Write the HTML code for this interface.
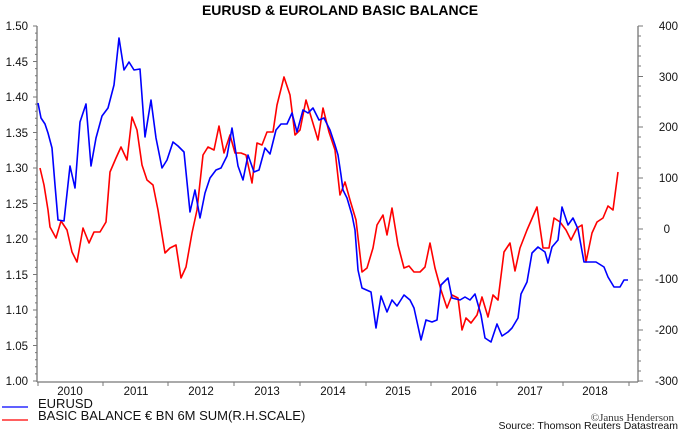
<!DOCTYPE html>
<html><head><meta charset="utf-8"><style>
html,body{margin:0;padding:0;background:#fff;}
svg{display:block;font-family:"Liberation Sans",Arial,sans-serif;}
</style></head><body>
<svg width="680" height="431" viewBox="0 0 680 431" xmlns="http://www.w3.org/2000/svg">
<text x="340" y="15" text-anchor="middle" font-weight="bold" font-size="14">EURUSD &amp; EUROLAND BASIC BALANCE</text>
<g stroke="#777" stroke-width="1.3" fill="none">
<line x1="37" y1="26" x2="37" y2="382"/>
<line x1="638" y1="26" x2="638" y2="382"/>
<line x1="37" y1="382" x2="638" y2="382"/>
</g>
<g font-size="11.5" fill="#111" text-anchor="end">
<text x="28" y="30">1.50</text><text x="28" y="66">1.45</text><text x="28" y="101">1.40</text><text x="28" y="137">1.35</text><text x="28" y="172">1.30</text><text x="28" y="208">1.25</text><text x="28" y="243">1.20</text><text x="28" y="279">1.15</text><text x="28" y="314">1.10</text><text x="28" y="350">1.05</text><text x="28" y="385">1.00</text>
</g>
<g font-size="11.5" fill="#111" text-anchor="end">
<text x="678" y="30">400</text><text x="678" y="81">300</text><text x="678" y="131">200</text><text x="678" y="182">100</text><text x="670" y="233">0</text><text x="678" y="283">-100</text><text x="678" y="334">-200</text><text x="678" y="385">-300</text>
</g>
<g font-size="11.5" fill="#111" text-anchor="middle">
<text x="70" y="395">2010</text><text x="136" y="395">2011</text><text x="201" y="395">2012</text><text x="267" y="395">2013</text><text x="333" y="395">2014</text><text x="398" y="395">2015</text><text x="464" y="395">2016</text><text x="530" y="395">2017</text><text x="595" y="395">2018</text>
</g>
<g stroke="#777" stroke-width="1">
<path d="M37,26h-4M37,61.5h-4M37,97h-4M37,132.5h-4M37,168h-4M37,203.5h-4M37,239h-4M37,274.5h-4M37,310h-4M37,345.5h-4M37,381h-4"/>
<path d="M37,33.1h-2M37,40.2h-2M37,47.3h-2M37,54.4h-2M37,68.6h-2M37,75.7h-2M37,82.8h-2M37,89.9h-2M37,104.1h-2M37,111.2h-2M37,118.3h-2M37,125.4h-2M37,139.6h-2M37,146.7h-2M37,153.8h-2M37,160.9h-2M37,175.1h-2M37,182.2h-2M37,189.3h-2M37,196.4h-2M37,210.6h-2M37,217.7h-2M37,224.8h-2M37,231.9h-2M37,246.1h-2M37,253.2h-2M37,260.3h-2M37,267.4h-2M37,281.6h-2M37,288.7h-2M37,295.8h-2M37,302.9h-2M37,317.1h-2M37,324.2h-2M37,331.3h-2M37,338.4h-2M37,352.6h-2M37,359.7h-2M37,366.8h-2M37,373.9h-2"/>
<path d="M638,26h5M638,36h3M638,46h3M638,56h3M638,66h3M638,76.5h5M638,86h3M638,96h3M638,107h3M638,117h3M638,127h5M638,137h3M638,147h3M638,157h3M638,168h3M638,178h5M638,188h3M638,198h3M638,208h3M638,218h3M638,229h5M638,239h3M638,249h3M638,259h3M638,269h3M638,280h5M638,290h3M638,300h3M638,310h3M638,320h3M638,330h5M638,340h3M638,350h3M638,361h3M638,371h3M638,381h5"/>
<path d="M38,382v4M103,382v4M168,382v4M234,382v4M300,382v4M366,382v4M431,382v4M497,382v4M563,382v4M629,382v4"/>
</g>
<polyline fill="none" stroke="#ff0000" stroke-width="1.6" stroke-linejoin="round" points="40,168 44,185 48,210 50,227 56,238 61,221 67,230 72,252 77,262 83,228 89,243 94,232 100,232 106,222 110,172 116,158 121,147 127,160 132,117 137,130 142,165 147,180 153,185 158,210 165,253 170,248 176,245 181,278 186,267 192,233 197,210 203,155 208,147 214,150 219,126 224,153 230,135 235,153 241,153 246,155 252,183 257,143 262,145 267,132 273,132 277,105 284,77 290,95 295,135 300,130 306,100 312,120 318,140 323,108 329,132 335,150 340,195 345,182 350,200 356,220 362,272 367,268 373,248 377,225 383,215 387,235 392,208 398,245 404,268 409,266 414,272 420,272 425,267 430,243 435,268 441,290 447,308 452,295 458,298 462,330 466,318 471,323 477,315 482,297 488,317 493,295 498,300 504,252 510,243 515,271 520,248 527,230 537,207 543,248 549,248 554,218 560,222 566,230 571,240 577,228 582,225 586,262 592,233 597,222 603,218 608,206 613,210 618,172"/>
<polyline fill="none" stroke="#0000ff" stroke-width="1.6" stroke-linejoin="round" points="38,103 41,118 45,124 48,133 52,148 55,185 58,220 64,221 70,166 75,188 80,122 86,104 91,166 96,138 102,116 108,108 114,85 119,38 124,70 129,62 134,70 140,69 145,137 151,100 156,138 162,168 167,160 173,142 178,146 184,152 190,212 195,190 200,218 205,193 210,178 216,170 221,168 227,156 232,128 238,166 243,180 248,155 254,172 259,170 265,148 270,154 276,130 281,124 287,124 292,113 297,132 303,110 308,113 313,108 319,120 324,118 330,130 335,145 338,155 341,175 343,190 347,198 352,215 355,230 358,270 362,288 371,292 376,328 381,296 387,312 392,300 397,306 404,295 410,300 414,308 421,340 426,320 432,322 437,320 441,285 448,278 452,298 460,300 465,297 470,300 475,294 481,315 485,338 491,342 497,324 502,336 508,332 512,328 518,318 521,294 527,282 532,253 538,247 545,252 548,263 552,247 558,240 562,207 568,225 573,218 578,229 584,262 590,262 596,262 604,267 608,277 614,287 620,287 624,280 628,280"/>
<line x1="2" y1="407" x2="28" y2="407" stroke="#0000ff" stroke-width="1.3"/>
<line x1="2" y1="420" x2="28" y2="420" stroke="#ff0000" stroke-width="1.3"/>
<g font-size="13" fill="#111">
<text x="38" y="408">EURUSD</text>
<text x="38" y="420">BASIC BALANCE € BN 6M SUM(R.H.SCALE)</text>
</g>
<text x="678" y="429" text-anchor="end" font-size="10.5" fill="#111">Source: Thomson Reuters Datastream</text>
<text x="674" y="421" text-anchor="end" font-size="11" fill="#333" font-family="Liberation Serif,serif">©Janus Henderson</text>
</svg>
</body></html>
